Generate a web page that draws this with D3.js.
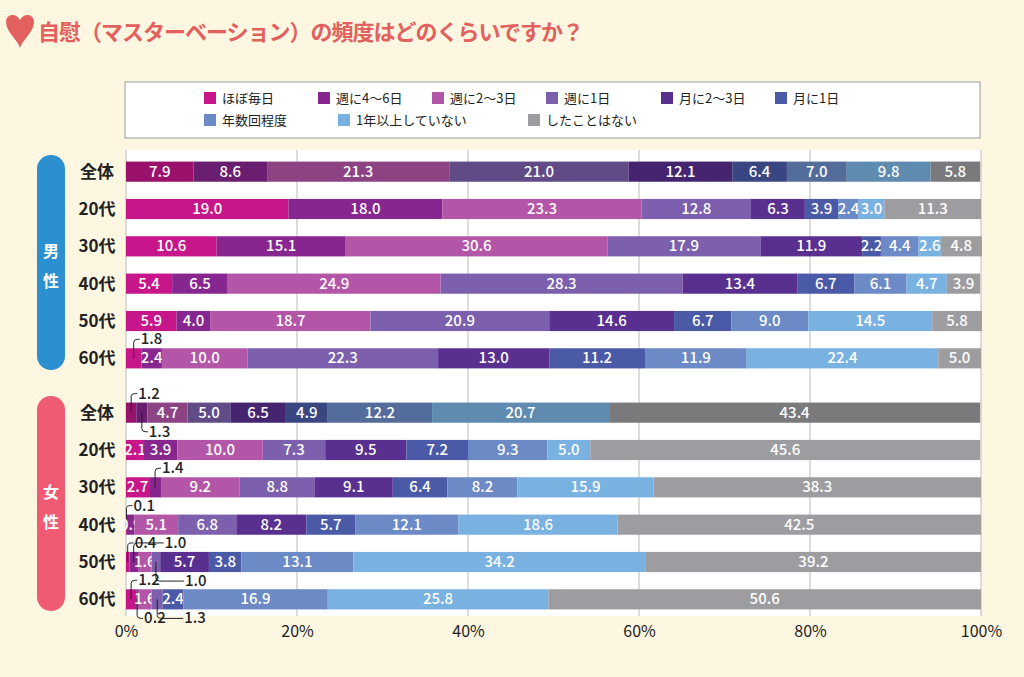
<!DOCTYPE html>
<html><head><meta charset="utf-8">
<script src="https://cdn.jsdelivr.net/npm/d3@7"></script>
<style>body{margin:0;background:#fdf6e1}svg{display:block;font-family:"Noto Sans CJK JP",sans-serif}</style>
</head><body><svg id="c" width="1024" height="677"></svg>
<script>
const categories = ["ほぼ毎日","週に4〜6日","週に2〜3日","週に1日","月に2〜3日","月に1日","年数回程度","1年以上していない","したことはない"];
const rowLabels = ["全体","20代","30代","40代","50代","60代"];
const male = [
 [7.9,8.6,21.3,21.0,12.1,6.4,7.0,9.8,5.8],
 [19.0,18.0,23.3,12.8,6.3,3.9,2.4,3.0,11.3],
 [10.6,15.1,30.6,17.9,11.9,2.2,4.4,2.6,4.8],
 [5.4,6.5,24.9,28.3,13.4,6.7,6.1,4.7,3.9],
 [5.9,4.0,18.7,20.9,14.6,6.7,9.0,14.5,5.8],
 [1.8,2.4,10.0,22.3,13.0,11.2,11.9,22.4,5.0]];
const female = [
 [1.2,1.3,4.7,5.0,6.5,4.9,12.2,20.7,43.4],
 [2.1,3.9,10.0,7.3,9.5,7.2,9.3,5.0,45.6],
 [2.7,1.4,9.2,8.8,9.1,6.4,8.2,15.9,38.3],
 [0.1,0.9,5.1,6.8,8.2,5.7,12.1,18.6,42.5],
 [0.4,1.0,1.6,1.0,5.7,3.8,13.1,34.2,39.2],
 [1.2,0.2,1.6,1.3,0,2.4,16.9,25.8,50.6]];
const xTicks = [0,20,40,60,80,100];
// callouts: [group,row,seg,dir,dx]
const callouts = [["m",5,0,"up",0],["f",0,0,"up",0],["f",0,1,"down",0],["f",2,1,"up",0],["f",3,0,"up",0],
 ["f",4,0,"up",0],["f",4,1,"up",24],["f",4,3,"down",22],["f",5,0,"up",0],["f",5,1,"down",0],["f",5,3,"down",20]];
const colors = ["#c6168a","#88268f","#b456a8","#7c60ad","#59308f","#4a5aa7","#6b8ac6","#79b2e0","#9d9da1"];

const svg = d3.select("#c");
const x = d3.scaleLinear().domain([0,100]).range([126,981]);
const yM = d3.scaleBand().domain(rowLabels).range([153,377]).paddingInner(0.46).paddingOuter(0.23);
const yF = d3.scaleBand().domain(rowLabels).range([394,618]).paddingInner(0.46).paddingOuter(0.23);

// title
svg.append("path").attr("d","M6,22 C6,14 16,12 20,20 C24,12 34,14 34,22 C34,32 22,40 20,48 C18,40 6,32 6,22Z").attr("fill","#e2605e");
svg.append("text").attr("x",38).attr("y",40).attr("font-size",22).attr("font-weight","bold").attr("letter-spacing",-1).attr("fill","#e2605e").text("自慰（マスターベーション）の頻度はどのくらいですか？");

// legend
svg.append("rect").attr("x",125).attr("y",82).attr("width",855).attr("height",56).attr("fill","#fff").attr("stroke","#999");
const legPos=[[204,99],[318,99],[432,99],[546,99],[661,99],[775,99],[204,121],[338,121],[528,121]];
categories.forEach((c,i)=>{
  const [lx,ly]=legPos[i];
  svg.append("rect").attr("x",lx).attr("y",ly-7).attr("width",12).attr("height",12).attr("fill",colors[i]);
  svg.append("text").attr("x",lx+18).attr("y",ly+4).attr("font-size",13).attr("fill","#222").text(c);
});

// plot bg + grid
svg.append("rect").attr("x",126).attr("y",150).attr("width",855).attr("height",466).attr("fill","#fff");
svg.append("g").attr("transform","translate(0,616)").call(d3.axisBottom(x).tickValues(xTicks).tickFormat(d=>d+"%").tickSize(0))
 .call(g=>{g.select(".domain").remove();g.selectAll("text").attr("font-size",16).attr("fill","#222").attr("dy","1.1em").attr("font-family","Noto Sans CJK JP");});
xTicks.forEach(t=>svg.append("line").attr("x1",x(t)).attr("x2",x(t)).attr("y1",150).attr("y2",616).attr("stroke","#bbb"));

// side pills
[["男性",155,370,"#2c8fd0"],["女性",396,611,"#ef5b73"]].forEach(([t,y0,y1,c])=>{
  svg.append("rect").attr("x",37).attr("y",y0).attr("width",28).attr("height",y1-y0).attr("rx",14).attr("fill",c);
  [...t].forEach((ch,i)=>svg.append("text").attr("x",51).attr("y",(y0+y1)/2-6+i*30).attr("text-anchor","middle").attr("font-size",16).attr("font-weight","bold").attr("fill","#fff").text(ch));
});

function drawGroup(data,y,g){
  data.forEach((row,ri)=>{
    const lab=rowLabels[ri], by=y(lab), bh=y.bandwidth();
    svg.append("text").attr("x",97).attr("y",by+bh/2+6).attr("text-anchor","middle").attr("font-size",17).attr("font-weight","bold").attr("fill","#222").text(lab);
    let cum=0;
    row.forEach((v,si)=>{
      const x0=x(cum), x1=x(cum+v); cum+=v;
      let col=d3.color(colors[si]); if(ri===0) col=col.darker(0.7);
      svg.append("rect").attr("x",x0).attr("y",by).attr("width",Math.max(0,x1-x0)).attr("height",bh).attr("fill",col);
      const co=callouts.find(c=>c[0]===g&&c[1]===ri&&c[2]===si);
      if(co){
        const cx=(x0+x1)/2, up=co[3]==="up", yy=up?by-9:by+bh+9;
        const ex=cx+6+co[4];
        svg.append("path").attr("d",`M${cx},${by+bh/2} L${cx},${yy+(up?3:-3)} Q${cx},${yy} ${cx+4},${yy} L${ex},${yy}`).attr("fill","none").attr("stroke","#222").attr("stroke-width",1);
        svg.append("text").attr("x",ex+1).attr("y",yy+5).attr("font-size",15).attr("font-weight","500").attr("fill","#222").text(v.toFixed(1));
      } else if(v>0){
        svg.append("text").attr("x",(x0+x1)/2).attr("y",by+bh/2+5).attr("text-anchor","middle").attr("font-size",15).attr("font-weight","500").attr("fill","#fff").text(v.toFixed(1));
      }
    });
  });
}
drawGroup(male,yM,"m");
drawGroup(female,yF,"f");
</script></body></html>
